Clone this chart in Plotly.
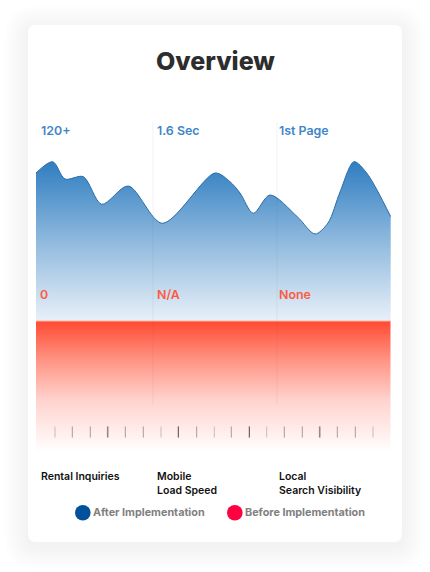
"""Overview card: after/before implementation area chart."""
import plotly.graph_objects as go

W, H = 430, 572
# plot box in page pixels, baseline of the chart sits at y=321
LEFT, RIGHT, TOP, BOTTOM = 36, 391, 120, 460
BASE = 321

# ---- data -------------------------------------------------------------------
# offset along the strip and height above the baseline
after_x = [0, 16.7, 29, 47.3, 65.7, 92.3, 126.3, 179, 194, 204, 217.3,
           234, 261.3, 279, 292, 304, 318, 330.7, 354.7]
after_y = [148, 159.3, 142, 144.3, 116.7, 135, 97.7, 148, 139.3, 128, 107.7,
           126, 104.3, 87, 98, 129, 159.3, 148, 104.3]
grid_x = [117, 241]
tick_x = [19, 36.3, 54.3, 71.7, 89.3, 107.3, 125, 142.3, 160.7, 178.3, 195.3, 213.3, 230.7,
          248.3, 266.3, 283.7, 301.3, 319.3, 337]
tick_tone = ["#c9bcbc", "#a99c9c", "#a99c9c", "#958888", "#a99c9c", "#a99c9c", "#c9bcbc", "#4f4646",
             "#a99c9c", "#c9bcbc", "#a99c9c", "#4f4646", "#c9bcbc", "#a99c9c", "#a99c9c", "#958888",
             "#a99c9c", "#a99c9c", "#c9bcbc"]
tick_width = [1, 1, 1, 1.6, 1, 1, 1, 1, 1, 1, 1, 1, 1, 1, 1, 1.6, 1, 1, 1]
after_labels = ["120+", "1.6 Sec", "1st Page"]
before_labels = ["0", "N/A", "None"]
categories = ["Rental Inquiries", "Mobile<br>Load Speed", "Local<br>Search Visibility"]
legend_names = ["After Implementation", "Before Implementation"]
legend_colors = ["#03509b", "#ff0040"]

FONT = "Inter"


def px(x):
    return x / W


def py(y):
    return 1 - y / H


def rounded_rect(x0, y0, x1, y1, r):
    """SVG path of a rounded box, page pixels in, paper units out."""
    pts = [
        f"M {px(x0 + r)} {py(y0)}", f"L {px(x1 - r)} {py(y0)}",
        f"Q {px(x1)} {py(y0)} {px(x1)} {py(y0 + r)}", f"L {px(x1)} {py(y1 - r)}",
        f"Q {px(x1)} {py(y1)} {px(x1 - r)} {py(y1)}", f"L {px(x0 + r)} {py(y1)}",
        f"Q {px(x0)} {py(y1)} {px(x0)} {py(y1 - r)}", f"L {px(x0)} {py(y0 + r)}",
        f"Q {px(x0)} {py(y0)} {px(x0 + r)} {py(y0)}", "Z",
    ]
    return " ".join(pts)


fig = go.Figure()

# Blue "after" area, gradient runs from the peak down to the baseline.
fig.add_trace(go.Scatter(
    x=after_x, y=after_y, mode="lines", fill="tozeroy",
    line=dict(color="#2a6ca8", width=1, shape="spline", smoothing=0.85),
    fillgradient=dict(type="vertical", start=160, stop=0,
                      colorscale=[[0, "#2e7dc0"], [0.5, "#8fb9de"], [1, "#e8f0f8"]]),
    hoverinfo="skip", showlegend=False,
))

# Red "before" block hangs under the flat zero line.
fig.add_trace(go.Scatter(
    x=[0, 354.5], y=[-131, -131], mode="lines", line=dict(width=0),
    hoverinfo="skip", showlegend=False,
))
fig.add_trace(go.Scatter(
    x=[0, 354.5], y=[0, 0], mode="lines", fill="tonexty",
    line=dict(color="#ffb3a6", width=1),
    fillgradient=dict(type="vertical", start=0, stop=-131,
                      colorscale=[[0, "#ff4a32"], [0.3, "#ff9484"], [0.6, "#ffd2cd"], [1, "#ffffff"]]),
    hoverinfo="skip", showlegend=False,
))

# Column dividers.
for gx in grid_x:
    fig.add_trace(go.Scatter(
        x=[gx, gx], y=[199, -84], mode="lines",
        line=dict(color="rgba(70,90,120,0.07)", width=1),
        hoverinfo="skip", showlegend=False,
    ))

# Tick row under the red block.
fig.add_trace(go.Scatter(
    x=tick_x, y=[-111] * len(tick_x), mode="markers",
    marker=dict(symbol="line-ns", size=8, line=dict(color=tick_tone, width=tick_width)),
    hoverinfo="skip", showlegend=False,
))

# Card with a soft layered shadow.
shapes = []
for grow in range(24, 0, -2):
    shapes.append(dict(
        type="path", xref="paper", yref="paper", layer="below",
        path=rounded_rect(28 - grow, 25 - grow + 4, 402 + grow, 542 + grow + 4, 8 + grow),
        fillcolor="rgba(0,0,0,0.0035)", line=dict(width=0),
    ))
shapes.append(dict(
    type="path", xref="paper", yref="paper", layer="below",
    path=rounded_rect(28, 25, 402, 542, 8), fillcolor="#ffffff", line=dict(width=0),
))
# Legend dots.
for cx, color in zip([82.8, 234.8], legend_colors):
    shapes.append(dict(
        type="circle", xref="paper", yref="paper",
        x0=px(cx - 7.8), x1=px(cx + 7.8), y0=py(512.7 + 7.8), y1=py(512.7 - 7.8),
        fillcolor=color, line=dict(width=0),
    ))


def note(x, y, text, size, color, weight, anchor="left", align="left"):
    fig.add_annotation(
        xref="paper", yref="paper", x=px(x), y=py(y), text=text, showarrow=False,
        xanchor=anchor, yanchor="middle", align=align, borderpad=0, borderwidth=0,
        font=dict(family=FONT, size=size, color=color, weight=weight),
    )


note(215, 61, "Overview", 25, "#2d2d2d", 800, anchor="center", align="center")
for x, t in zip([41, 157, 279], after_labels):
    note(x, 131, t, 12.4, "#3f86c8", 600)
for x, t in zip([40, 157, 279], before_labels):
    note(x, 294.5, t, 12.4, "#ff5a40", 600)
for x, t in zip([41, 157, 279], categories):
    y = 476 if "<br>" not in t else 483.5
    note(x, y, t, 10.5, "#111111", 600)
note(93, 512.5, legend_names[0], 10.8, "#808080", 700)
note(245, 512.5, legend_names[1], 10.8, "#808080", 700)

fig.update_layout(
    width=W, height=H, margin=dict(l=0, r=0, t=0, b=0), autosize=False,
    paper_bgcolor="#ffffff", plot_bgcolor="rgba(0,0,0,0)", shapes=shapes,
    xaxis=dict(domain=[px(LEFT), px(RIGHT)], range=[0, RIGHT - LEFT], visible=False, fixedrange=True),
    yaxis=dict(domain=[py(BOTTOM), py(TOP)], range=[BASE - BOTTOM, BASE - TOP], visible=False, fixedrange=True),
)
fig.write_html("out.html", config=dict(displayModeBar=False),
               post_script="document.body.style.margin='0';")
